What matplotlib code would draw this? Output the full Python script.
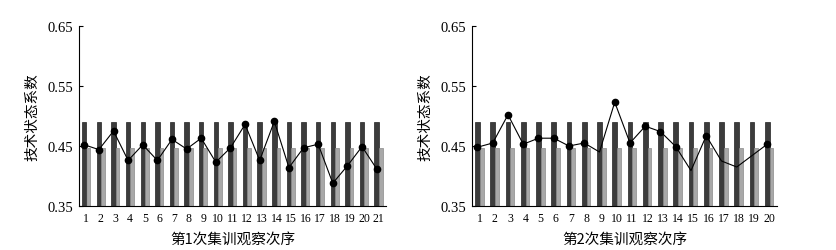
import matplotlib
matplotlib.use("Agg")
import matplotlib.pyplot as plt
import numpy as np

# observed technical-state coefficients
obs1 = [0.452, 0.444, 0.475, 0.426, 0.452, 0.426, 0.461, 0.445, 0.463, 0.423, 0.447,
        0.486, 0.426, 0.491, 0.414, 0.447, 0.453, 0.388, 0.417, 0.449, 0.412]
obs2 = [0.448, 0.455, 0.502, 0.453, 0.463, 0.463, 0.450, 0.455, 0.440, 0.523,
        0.455, 0.483, 0.474, 0.449, 0.409, 0.467, 0.425, 0.415, 0.434, 0.453]
upper = 0.49   # dark bars
lower = 0.446  # light bars
nomark2 = [8, 14, 16, 17, 18]  # points drawn without a dot on the 2nd chart
xlabels = ["第1次集训观察次序", "第2次集训观察次序"]
ylabel = "技术状态系数"
yticks = [0.35, 0.45, 0.55, 0.65]

SERIF = ["Liberation Serif", "Noto Sans CJK SC"]
CJK = ["Noto Sans CJK SC", "Liberation Serif"]

fig = plt.figure(figsize=(8.36, 2.51), dpi=100)
W, H = 836, 251
axes = [fig.add_axes([79 / W, 1 - 207 / H, 307 / W, 180 / H]),
        fig.add_axes([472 / W, 1 - 207 / H, 305 / W, 180 / H])]

for ax, obs, xl, hidden in zip(axes, [obs1, obs2], xlabels, [[], nomark2]):
    n = len(obs)
    x = np.arange(1, n + 1)
    ax.bar(x - 0.14, [upper] * n, width=0.3, bottom=0, color="#3c3c3c",
           edgecolor="#222222", lw=0.5, zorder=1)
    ax.bar(x + 0.14, [lower] * n, width=0.25, bottom=0, color="#a8a8a8",
           edgecolor="#8a8a8a", lw=0.5, zorder=1)
    ax.plot(x - 0.14, obs, color="black", lw=0.8, zorder=3)
    keep = [i for i in range(n) if i not in hidden]
    ax.plot(x[keep] - 0.14, np.array(obs)[keep], "o", color="black", ms=4.5, zorder=4)

    ax.set_xlim(0.5, n + 0.5)
    ax.set_ylim(0.35, 0.65)
    ax.set_yticks(yticks)
    ax.set_yticklabels([f"{v:.2f}" for v in yticks], family=SERIF, fontsize=10.5)
    ax.set_xticks(x)
    ax.set_xticklabels([str(i) for i in x], family=SERIF, fontsize=8.5)
    ax.tick_params(axis="y", direction="in", length=3, width=0.8, pad=4)
    ax.tick_params(axis="x", length=0, pad=4)
    for s in ["top", "right"]:
        ax.spines[s].set_visible(False)
    ax.spines["left"].set_linewidth(0.8)
    ax.spines["bottom"].set_linewidth(0.8)
    ax.set_xlabel(xl, family=CJK, fontsize=10.5, labelpad=6)
    ax.set_ylabel(ylabel, family=CJK, fontsize=10.5, labelpad=6)

fig.savefig("out.png", dpi=100)
